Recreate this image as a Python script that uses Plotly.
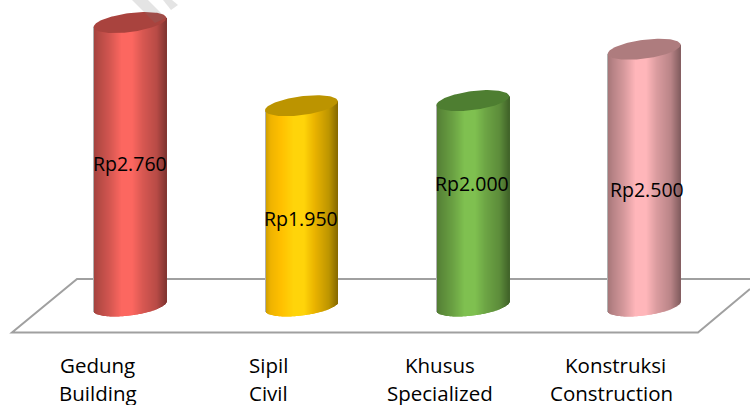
import numpy as np
import plotly.graph_objects as go

# ---- data ----
categories_id = ["Gedung", "Sipil", "Khusus", "Konstruksi"]
categories_en = ["Building", "Civil", "Specialized", "Construction"]
values = [2760, 1950, 2000, 2500]
value_labels = ["Rp2.760", "Rp1.950", "Rp2.000", "Rp2.500"]
body_colors = [(252, 103, 96), (255, 212, 10), (127, 192, 80), (255, 182, 186)]
cap_colors = ["#A9433E", "#BC9400", "#4E7E31", "#AE7C7E"]
label_values = [1390, 855, 1190, 1130]   # vertical placement of the value labels, axis units
label_shift_px = [-0.5, 0, -1, 3]        # horizontal nudge of the value labels
name_shift_px = [0, 0, 0, 3.5]           # horizontal nudge of the first line of the names

# ---- geometry ----
W, H = 750, 405
PX_PER_X = 171.4
PX_PER_Y = 0.1027
Y0_PX = 306
X0_PX = 130
A, B, K = 36.4, 9.5, 4.5

x_range = [-X0_PX / PX_PER_X, (W - X0_PX) / PX_PER_X]
y_range = [(Y0_PX - H) / PX_PER_Y, Y0_PX / PX_PER_Y]

stops = [0, .08, .22, .39, .54, .68, .875, 1]
shade = [.64, .72, .83, 1, 1, .86, .73, .52]
# the yellow body runs through orange on its way to the highlight
yellow_ramp = [(200, 155, 0), (240, 180, 0), (255, 192, 0), (255, 212, 10),
               (255, 212, 10), (235, 180, 0), (190, 150, 0), (135, 105, 0)]

fig = go.Figure()
dx = np.arange(-A + .5, A, 1.0)
for i, (v, c, cap) in enumerate(zip(values, body_colors, cap_colors)):
    cosv = np.clip(dx / A, -1, 1)
    sinv = np.sqrt(1 - cosv ** 2)
    low = -(B * sinv - K * cosv) / PX_PER_Y
    chord = K * cosv / PX_PER_Y
    pos = (dx + A) / (2 * A)
    if i == 1:
        ramp = np.array(yellow_ramp, dtype=float)
    else:
        ramp = np.outer(shade, c)
    chan = [np.interp(pos, stops, ramp[:, n]) for n in range(3)]
    cols = [f"rgb({int(r)},{int(g)},{int(b)})" for r, g, b in zip(*chan)]
    cols[0] = "rgb(176,176,176)"
    widths = [1.4 / PX_PER_X] * (len(dx) - 1) + [1.0 / PX_PER_X]
    fig.add_trace(go.Bar(
        x=(i + (dx + np.array(widths) * PX_PER_X / 2 - .5) / PX_PER_X).tolist(),
        base=low.tolist(),
        y=(v + chord - low).tolist(),
        width=widths,
        marker=dict(color=cols, line=dict(width=0)),
        showlegend=False, hoverinfo="skip",
    ))
    t = np.linspace(0, 2 * np.pi, 121)
    fig.add_trace(go.Scatter(
        x=(i + A * np.cos(t) / PX_PER_X).tolist(),
        y=(v - (B * np.sin(t) - K * np.cos(t)) / PX_PER_Y).tolist(),
        mode="lines", fill="toself", fillcolor=cap, line=dict(width=0),
        showlegend=False, hoverinfo="skip",
    ))

FONT = "Open Sans, Noto Sans, sans-serif"
ann = []
for i in range(4):
    ann.append(dict(x=i + label_shift_px[i] / PX_PER_X, y=label_values[i], xref="x", yref="y",
                    text=value_labels[i], showarrow=False,
                    font=dict(family=FONT, size=19.5, color="#000000")))
    lx = i - 32.5 / PX_PER_X
    ann.append(dict(x=lx + name_shift_px[i] / PX_PER_X, y=1 - 365 / H, xref="x", yref="paper",
                    text=categories_id[i], showarrow=False, yanchor="middle",
                    font=dict(family=FONT, size=20.5, color="#000000")))
    ann.append(dict(x=lx, y=1 - 393 / H, xref="x", yref="paper", text=categories_en[i],
                    showarrow=False, yanchor="middle",
                    font=dict(family=FONT, size=20.5, color="#000000")))

def path(pts, close=False):
    s = "M" + " L".join(f"{x/W:.5f},{1-y/H:.5f}" for x, y in pts)
    return s + (" Z" if close else "")

shapes = [
    dict(type="path", xref="paper", yref="paper", layer="below",
         path=path([(760, 279), (77, 279), (12, 332.5), (698, 332.5), (750, 289)]),
         line=dict(color="#A0A0A0", width=2)),
    dict(type="path", xref="paper", yref="paper", layer="above",
         path=path([(132, 0), (148, 0), (166, 18), (155, 23)], True),
         fillcolor="rgba(120,120,120,0.2)", line=dict(width=0)),
    dict(type="path", xref="paper", yref="paper", layer="above",
         path=path([(163, 0), (172, 0), (178, 5), (171, 10)], True),
         fillcolor="rgba(120,120,120,0.2)", line=dict(width=0)),
]

fig.update_layout(
    width=W, height=H,
    margin=dict(l=0, r=0, t=0, b=0, autoexpand=False),
    paper_bgcolor="white", plot_bgcolor="rgba(0,0,0,0)",
    barmode="overlay", showlegend=False,
    xaxis=dict(range=x_range, visible=False, fixedrange=True),
    yaxis=dict(range=y_range, visible=False, fixedrange=True),
    annotations=ann, shapes=shapes,
)
fig.write_html("out.html", config={"displayModeBar": False},
               post_script="document.body.style.margin='0';document.documentElement.style.overflow='hidden';")
